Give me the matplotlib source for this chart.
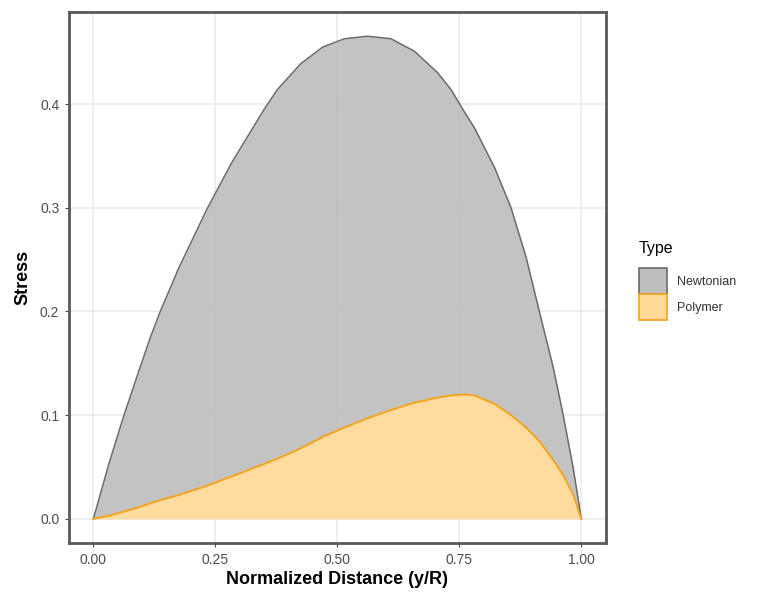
import matplotlib.pyplot as plt
from matplotlib.patches import Patch

plt.rcParams['font.family'] = ['Liberation Sans', 'DejaVu Sans']

# Values
distance = [0, 0.031, 0.062, 0.092, 0.116, 0.137, 0.175, 0.233, 0.284, 0.35,
            0.377, 0.425, 0.47, 0.514, 0.562, 0.61, 0.658, 0.706, 0.733, 0.761,
            0.781, 0.822, 0.856, 0.887, 0.914, 0.942, 0.962, 0.983, 1.0]
newtonian = [0, 0.052, 0.099, 0.141, 0.174, 0.200, 0.242, 0.299, 0.344, 0.395,
             0.414, 0.439, 0.455, 0.463, 0.4655, 0.463, 0.451, 0.430, 0.414, 0.392,
             0.377, 0.339, 0.300, 0.252, 0.200, 0.147, 0.102, 0.050, 0]
polymer = [0, 0.003, 0.007, 0.011, 0.015, 0.018, 0.023, 0.032, 0.041, 0.053,
           0.058, 0.068, 0.079, 0.088, 0.097, 0.105, 0.112, 0.117, 0.119, 0.120,
           0.119, 0.111, 0.100, 0.088, 0.075, 0.057, 0.043, 0.024, 0]

x_ticks = [0.00, 0.25, 0.50, 0.75, 1.00]
x_labels = ['0.00', '0.25', '0.50', '0.75', '1.00']
y_ticks = [0.0, 0.1, 0.2, 0.3, 0.4]
y_labels = ['0.0', '0.1', '0.2', '0.3', '0.4']

grey_fill = '#bebebe'
orange_fill = '#ffd996'

fig = plt.figure(figsize=(7.6, 6.03), dpi=100)
ax = fig.add_axes([0.0908, 0.0995, 0.7062, 0.8805])

# Areas
ax.fill_between(distance, polymer, newtonian, color=grey_fill, alpha=0.92, lw=0, zorder=2)
ax.fill_between(distance, 0, polymer, color=orange_fill, alpha=0.92, lw=0, zorder=2)
ax.plot(distance, newtonian, color='#6b6b6b', lw=1.1, zorder=3)
ax.plot(distance, polymer, color='#f5a31a', lw=1.4, zorder=3)

# ggplot-like expanded limits
ymax = max(newtonian)
ax.set_xlim(-0.05, 1.05)
ax.set_ylim(-0.05 * ymax, 1.05 * ymax)

ax.set_xticks(x_ticks)
ax.set_xticklabels(x_labels)
ax.set_yticks(y_ticks)
ax.set_yticklabels(y_labels)
ax.tick_params(colors='#4d4d4d', labelsize=10, length=3, width=0.8, pad=4)
ax.grid(True, color='#ebebeb', lw=1.2, zorder=1)
ax.set_axisbelow(True)

for s in ax.spines.values():
    s.set_color('#5a5a5a')
    s.set_linewidth(2)

ax.set_xlabel('Normalized Distance (y/R)', fontsize=13, fontweight='bold', labelpad=3)
ax.set_ylabel('Stress', fontsize=13, fontweight='bold', labelpad=6)

handles = [Patch(facecolor=grey_fill, edgecolor='#6b6b6b', lw=1.2, label='Newtonian'),
           Patch(facecolor=orange_fill, edgecolor='#f5a31a', lw=1.2, label='Polymer')]
leg = fig.legend(handles=handles, title='Type', loc='center left',
                 bbox_to_anchor=(0.826, 0.535), frameon=False, fontsize=9,
                 title_fontsize=11.5, handlelength=2.2, handleheight=2.8,
                 labelspacing=0.05, handletextpad=0.8)
leg._legend_box.align = 'left'
leg._legend_box.sep = 9
for t in leg.get_texts():
    t.set_color('#333333')

plt.savefig('out.png', dpi=100)
